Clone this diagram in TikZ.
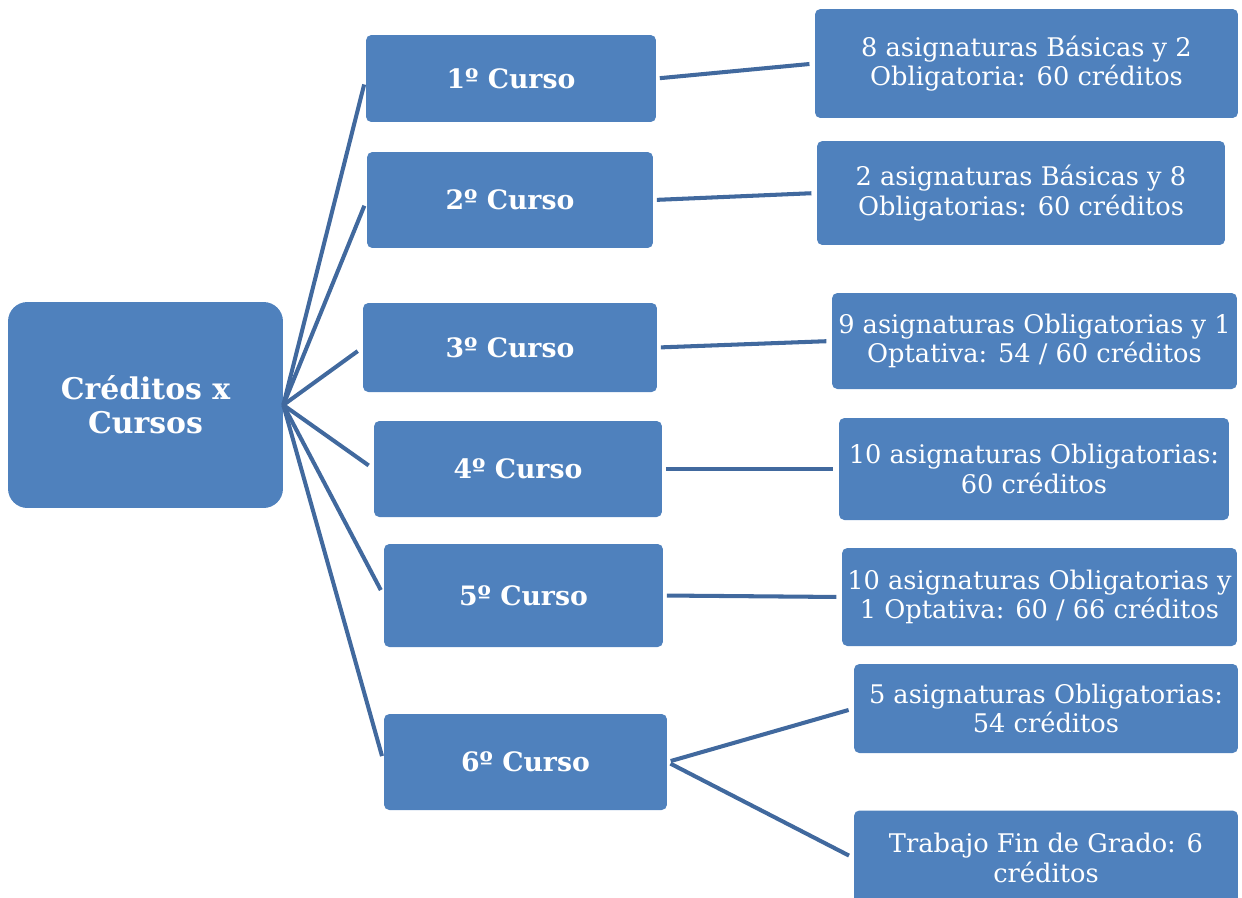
\documentclass[tikz,border=0pt]{standalone}
\usepackage{fontspec}
\setmainfont{DejaVu Serif}
\definecolor{cajaazul}{HTML}{4F81BD}
\definecolor{lineaazul}{HTML}{41699E}
\tikzset{
  caja/.style={rectangle, rounded corners=3pt, fill=cajaazul, text=white, align=center, inner sep=0pt},
  curso/.style={caja, font=\fontsize{15.2}{18}\selectfont\bfseries},
  info/.style={caja, font=\fontsize{14.6}{16.6}\selectfont},
  enlace/.style={draw=lineaazul, line width=2.3pt}
}
\begin{document}
\begin{tikzpicture}[x=0.02cm,y=-0.02cm]
\useasboundingbox (0,0) rectangle (1242,897);
\clip (0,0) rectangle (1242,897);

\node[caja, rounded corners=11pt, minimum width=5.5cm, minimum height=4.12cm,
      font=\fontsize{17}{19.5}\selectfont\bfseries] at (145.5,405) (raiz) {Créditos x\\Cursos};

\node[curso, minimum width=5.8cm, minimum height=1.74cm] at (511,78.5) (c1) {1º Curso};
\node[curso, minimum width=5.72cm, minimum height=1.92cm] at (510,200) (c2) {2º Curso};
\node[curso, minimum width=5.88cm, minimum height=1.78cm] at (510,347.5) (c3) {3º Curso};
\node[curso, minimum width=5.76cm, minimum height=1.92cm] at (518,469) (c4) {4º Curso};
\node[curso, minimum width=5.58cm, minimum height=2.06cm] at (523.5,595.5) (c5) {5º Curso};
\node[curso, minimum width=5.66cm, minimum height=1.92cm] at (525.5,762) (c6) {6º Curso};

\node[info, minimum width=8.46cm, minimum height=2.18cm] at (1026.5,63.5) (d1) {8 asignaturas Básicas y 2\\Obligatoria: 60 créditos};
\node[info, minimum width=8.16cm, minimum height=2.08cm] at (1021,193) (d2) {2 asignaturas Básicas y 8\\Obligatorias: 60 créditos};
\node[info, minimum width=8.1cm, minimum height=1.92cm] at (1034.5,341) (d3) {9 asignaturas Obligatorias y 1\\Optativa: 54 / 60 créditos};
\node[info, minimum width=7.8cm, minimum height=2.04cm] at (1034,469) (d4) {10 asignaturas Obligatorias:\\60 créditos};
\node[info, minimum width=7.9cm, minimum height=1.96cm] at (1039.5,597) (d5) {10 asignaturas Obligatorias y\\1 Optativa: 60 / 66 créditos};
\node[info, minimum width=7.68cm, minimum height=1.78cm] at (1046,708.5) (d6) {5 asignaturas Obligatorias:\\54 créditos};
\node[info, minimum width=7.68cm, minimum height=1.9cm] at (1046,858) (d7) {Trabajo Fin de Grado: 6\\créditos};

% ramas desde la raiz
\foreach \c in {c1,c2,c3,c4,c5,c6}
{
     \draw[enlace, shorten >=3.5pt] (raiz.east) -- (\c.west);
}

% detalles de cada curso
\foreach \c/\d in {c1/d1,c2/d2,c3/d3,c4/d4,c5/d5,c6/d6,c6/d7}
{
     \draw[enlace, shorten <=2pt, shorten >=3pt] (\c.east) -- (\d.west);
}

\end{tikzpicture}
\end{document}
